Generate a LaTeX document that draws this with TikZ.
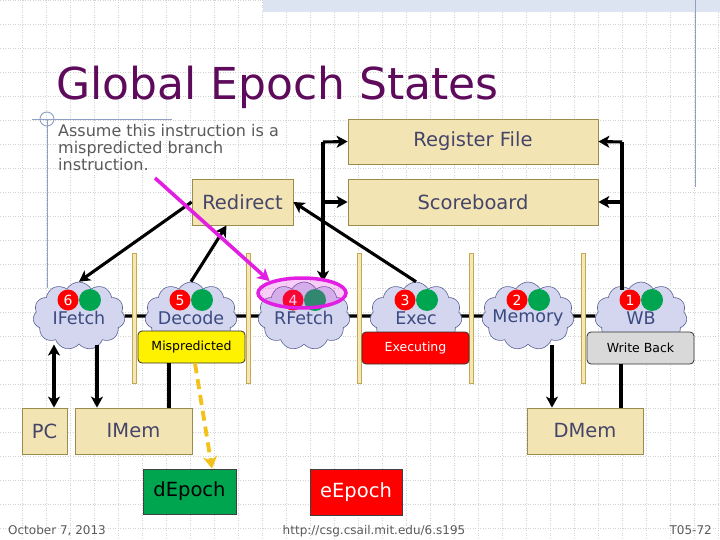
\documentclass[tikz,border=0pt]{standalone}
\usepackage{fontspec}
\setmainfont{DejaVu Sans}
\usetikzlibrary{shapes.symbols,shapes.geometric,arrows.meta}
\pgfdeclarelayer{background}
\pgfsetlayers{background,main}

\definecolor{boxfill}{HTML}{F3E4B4}
\definecolor{boxline}{HTML}{9C8C4C}
\definecolor{boxtext}{HTML}{45456A}
\definecolor{cloudfill}{HTML}{D3D6EE}
\definecolor{cloudline}{HTML}{5A6294}
\definecolor{stagetext}{HTML}{3B4A80}
\definecolor{titlecol}{HTML}{5E0B5C}
\definecolor{tmplblue}{HTML}{8FA0C4}
\definecolor{hatchblue}{HTML}{DCE4F2}
\definecolor{fifofill}{HTML}{F6E8B6}
\definecolor{fifoline}{HTML}{C6A850}
\definecolor{okgreen}{HTML}{00A550}
\definecolor{hlpink}{HTML}{E21EE2}
\definecolor{gold}{HTML}{F2C21A}
\definecolor{notegray}{HTML}{5A5A5A}
\definecolor{wbgray}{HTML}{D9D9D9}

\tikzset{
  gridline/.style={gray!35,line width=0.5pt,dash pattern=on 1pt off 1.5pt},
  tmpl/.style={tmplblue,line width=0.9pt},
  box/.style={draw=boxline,line width=0.8pt,fill=boxfill,text=boxtext,inner sep=0pt,
    font=\fontsize{19.5}{23}\selectfont},
  stage/.style={cloud,cloud puffs=11,cloud puff arc=120,cloud ignores aspect,draw=cloudline,
    line width=0.6pt,fill=cloudfill,minimum width=92pt,minimum height=68pt,inner sep=0pt},
  stagelabel/.style={text=stagetext,inner sep=0pt,font=\fontsize{17.5}{20}\selectfont},
  epochred/.style={circle,fill=red,text=white,minimum size=21pt,inner sep=0pt,
    font=\fontsize{14}{14}\selectfont},
  epochgreen/.style={circle,fill=okgreen,minimum size=22pt,inner sep=0pt},
  fifo/.style={draw=fifoline,fill=fifofill,line width=0.6pt,minimum width=4pt,
    minimum height=130pt,inner sep=0pt},
  status/.style={draw=black!80,line width=0.8pt,rounded corners=4pt,minimum width=107pt,
    minimum height=32pt,inner sep=0pt,font=\fontsize{12.5}{14}\selectfont},
  wire/.style={line width=3.1pt},
  arr/.style={wire,-{Stealth[length=11pt,width=12pt,inset=3pt]}},
  arr2/.style={wire,{Stealth[length=11pt,width=12pt,inset=3pt]}-{Stealth[length=11pt,width=12pt,inset=3pt]}},
  hl/.style={ellipse,draw=hlpink,line width=3.5pt,fill=hlpink,fill opacity=0.22,
    minimum width=88pt,minimum height=30pt,inner sep=0pt},
  hlarr/.style={hlpink,line width=3.6pt,-{Stealth[length=12pt,width=13pt,inset=3pt]}},
  goldarr/.style={gold,line width=3.8pt,dash pattern=on 10pt off 6pt,
    -{Stealth[length=12pt,width=14pt,inset=3.5pt]}}
}

\begin{document}
\begin{tikzpicture}[x=1pt,y=-1pt]
  \useasboundingbox (0,0) rectangle (720,540);

  % title and template
  \node[anchor=base west,inner sep=0pt,text=titlecol,font=\fontsize{44}{50}\selectfont] (title) at (56,100) {Global Epoch States};
  \fill[hatchblue] (263,0) rectangle (720,12);
  \draw[tmpl] (695,0) -- (695,187);
  \draw[tmpl] (32,119) -- (172,119);
  \draw[tmpl] (47,119) circle[radius=7pt];
  \draw[tmpl] (47,119) -- (47,288);
  \node[anchor=north west,align=left,inner sep=0pt,text=notegray,font=\fontsize{16}{17}\selectfont] (note) at (58,124)
    {Assume this instruction is a\\mispredicted branch\\instruction.};

  % pipeline stages
  \foreach \bx [count=\i] in {134.5,248,359,471,583}
    \node[fifo] (fifo\i) at (\bx,318) {};
  \foreach \nm/\lbl/\num/\cx in {ifetch/IFetch/6/79,decode/Decode/5/191,rfetch/RFetch/4/304,exec/Exec/3/416,memory/Memory/2/528,wb/WB/1/641} {
    \node[stage] (\nm) at (\cx,316) {};
    \node[epochred] (\nm-r) at (\cx-11,300) {\num};
    \node[epochgreen] (\nm-g) at (\cx+11,300) {};
    \node[stagelabel] (\nm-l) at (\cx,318) {\lbl};
  }
  \node[status,fill=yellow] (mispred) at (191.5,347) {Mispredicted};
  \node[status,fill=red,text=white] (executing) at (415.5,348) {Executing};
  \node[status,fill=wbgray] (writeback) at (640.5,348) {Write Back};

  \begin{pgfonlayer}{background}
    \fill[white] (0,0) rectangle (720,540);
    \foreach \gx in {0,...,29}
      \draw[gridline] (22.7+24*\gx,0) -- (22.7+24*\gx,540);
    \foreach \gy in {0,...,22}
      \draw[gridline] (0,0.7+24*\gy) -- (720,0.7+24*\gy);
    \draw[wire] (ifetch) -- (wb);
  \end{pgfonlayer}

  % state boxes
  \node[box,minimum width=250pt,minimum height=45pt] (regfile) at (473,141.5) {Register File};
  \node[box,minimum width=250pt,minimum height=46pt] (scorebd) at (473,202) {Scoreboard};
  \node[box,minimum width=101pt,minimum height=46pt] (redirect) at (242.5,202) {Redirect};
  \node[box,minimum width=45pt,minimum height=46pt] (pc) at (44.5,431) {PC};
  \node[box,minimum width=117pt,minimum height=46pt] (imem) at (133.5,431) {IMem};
  \node[box,minimum width=116pt,minimum height=46pt] (dmem) at (585,431) {DMem};
  \node[box,fill=okgreen,draw=black!75,text=black,minimum width=93pt,minimum height=45pt] (depoch) at (189.5,491.5) {dEpoch};
  \node[box,fill=red,draw=black!75,text=white,minimum width=92pt,minimum height=46pt] (eepoch) at (356,492) {eEpoch};

  % connections
  \coordinate (rfsplit) at (323,142);
  \coordinate (wbsplit) at (622,142);
  \draw[arr] (rfsplit) -- (regfile.west);
  \draw[arr] (rfsplit |- scorebd.west) -- (scorebd.west);
  \draw[arr] (rfsplit) -- (rfsplit |- rfetch.north);
  \draw[wire] (wbsplit |- wb.north) ++(0,8) -- (wbsplit);
  \draw[arr] (wbsplit) -- (regfile.east);
  \draw[arr] (wbsplit |- scorebd.east) -- (scorebd.east);
  \draw[arr] (redirect.west) -- (ifetch.north);
  \draw[arr] (decode.north) -- ([xshift=-16pt]redirect.south);
  \draw[arr] (exec.north) -- (redirect.east);

  \coordinate (pcin) at ([xshift=9.5pt]pc.north);
  \coordinate (imin) at ([xshift=-36.5pt]imem.north);
  \coordinate (imtap) at ([xshift=35.5pt]imem.north);
  \coordinate (dmin) at ([xshift=-33pt]dmem.north);
  \coordinate (dmtap) at ([xshift=36pt]dmem.north);
  \draw[arr2] (pcin) -- (pcin |- ifetch.south);
  \draw[arr] (imin |- ifetch.south) -- (imin);
  \draw[wire] (imtap |- mispred.south) -- (imtap);
  \draw[arr] (dmin |- memory.south) -- (dmin);
  \draw[wire] (dmtap |- writeback.south) -- (dmtap);
  \draw[goldarr] ([xshift=3.5pt]mispred.south) -- ([xshift=22.5pt]depoch.north);

  % highlighted instruction
  \node[hl] (hl) at (302,293) {};
  \coordinate (hlfrom) at (155,178);
  \draw[hlarr] (hlfrom) -- (hl.north west);

  % footer
  \node[anchor=base west,inner sep=0pt,text=notegray,font=\fontsize{12}{14}\selectfont] (date) at (8,534) {October 7, 2013};
  \node[anchor=base,inner sep=0pt,text=notegray,font=\fontsize{12}{14}\selectfont] (url) at (374,534) {http://csg.csail.mit.edu/6.s195};
  \node[anchor=base east,inner sep=0pt,text=notegray,font=\fontsize{12}{14}\selectfont] (slide) at (712,534) {T05-72};
\end{tikzpicture}
\end{document}
